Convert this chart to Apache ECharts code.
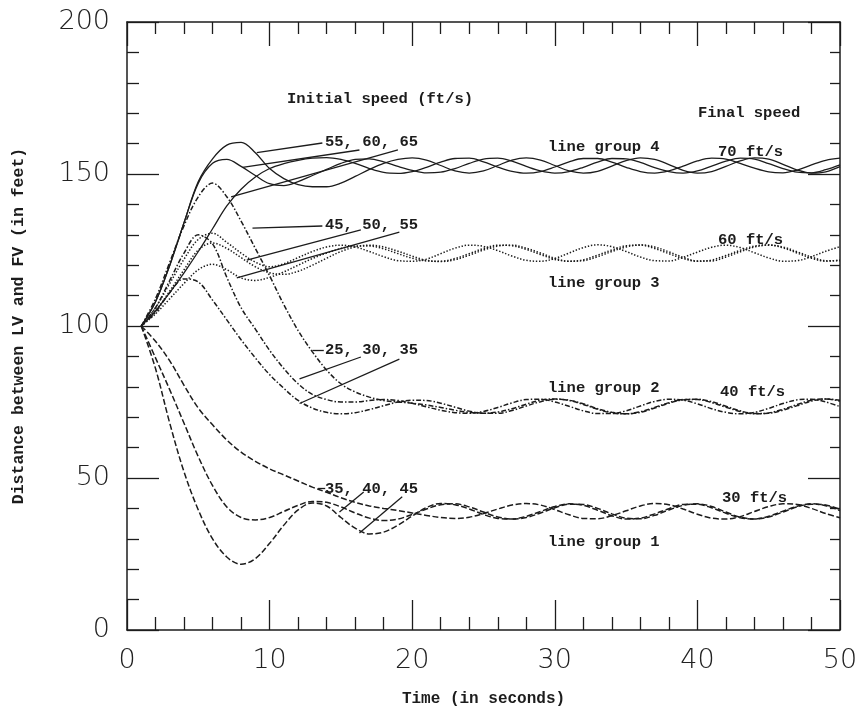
<!DOCTYPE html>
<html>
<head>
<meta charset="utf-8">
<script src="https://cdn.jsdelivr.net/npm/echarts@6/dist/echarts.min.js"></script>
<style>
  html, body { margin: 0; padding: 0; background: #fff; }
  #chart { width: 861px; height: 711px; }
</style>
</head>
<body>
<div id="chart"></div>
<script>
// time samples (s), shared by every curve
const timeSec = [1, 2, 3, 4, 5, 6, 7, 8, 9, 10, 11, 12, 13, 14, 15, 16, 17, 18, 19, 20,
  21, 22, 23, 24, 25, 26, 27, 28, 29, 30, 31, 32, 33, 34, 35, 36, 37, 38, 39, 40,
  41, 42, 43, 44, 45, 46, 47, 48, 49, 50];

// line group 4 (final 70 ft/s), initial 55 / 60 / 65
const g4s55 = [100, 108, 120, 134, 147.5, 155, 159.5, 160.4, 157, 151.8,
  148.5, 146.5, 145.8, 145.8, 147, 149.2, 151.5, 153.5, 154.8, 155.3,
  154.6, 152.8, 151.0, 150.3, 151.0, 152.8, 154.6, 155.3, 154.6, 152.8,
  151.0, 150.3, 150.9, 152.6, 154.4, 155.3, 154.8, 153.1, 151.2, 150.3,
  150.8, 152.5, 154.3, 155.3, 154.9, 153.2, 151.3, 150.3, 150.7, 152.4];
const g4s60 = [100, 108, 120, 134, 147, 153.5, 154.8, 152.5, 149.5, 146.8,
  146.2, 147.5, 149.5, 151.5, 153.5, 154.8, 155, 154, 152.5, 151.2,
  150.4, 150.6, 151.8, 153.5, 154.9, 155.2, 154.2, 152.5, 151, 150.3,
  150.8, 152.2, 153.9, 155.1, 155, 153.8, 152.1, 150.8, 150.3, 151,
  152.6, 154.2, 155.2, 154.9, 153.4, 151.8, 150.6, 150.4, 151.4, 153];
const g4s65 = [100, 105, 111, 117.5, 124.5, 132, 139.5, 145, 149, 151.8,
  153.4, 154.5, 155.2, 155.4, 154.8, 153.5, 151.8, 150.5, 150.2, 150.8,
  152.2, 153.9, 155.1, 155.2, 154, 152.3, 150.9, 150.3, 150.8, 152.3,
  154, 155.1, 155.1, 153.9, 152.2, 150.8, 150.3, 151, 152.6, 154.3,
  155.2, 154.9, 153.5, 151.9, 150.7, 150.4, 151.3, 153, 154.5, 155.2];

// line group 3 (final 60 ft/s), initial 45 / 50 / 55
const g3s45 = [100, 106, 114, 122, 128.5, 130.5, 127.5, 124, 121, 119.5,
  120.5, 122.5, 124.5, 126, 126.6, 126, 124.5, 122.8, 121.5, 121.3,
  122, 123.8, 125.6, 126.6, 126.2, 124.8, 123, 121.6, 121.3, 122.2,
  124, 125.8, 126.7, 126.1, 124.5, 122.7, 121.5, 121.4, 122.6, 124.3,
  125.9, 126.6, 125.8, 124.1, 122.4, 121.3, 121.5, 122.8, 124.6, 126.1];
const g3s50 = [100, 105, 111.5, 118.5, 125, 127.3, 125.5, 122.5, 119.5, 117.5,
  117, 118, 120, 122.3, 124.5, 126, 126.6, 126, 124.6, 123,
  121.6, 121.2, 121.8, 123.3, 125, 126.3, 126.6, 125.6, 124, 122.3,
  121.3, 121.5, 122.8, 124.5, 126, 126.7, 126, 124.4, 122.6, 121.4,
  121.4, 122.7, 124.4, 126, 126.6, 126, 124.4, 122.7, 121.5, 121.5];
const g3s55 = [100, 104, 109, 114, 118.5, 120.3, 118.5, 115.8, 115, 116,
  117.8, 120, 122.2, 124, 125.5, 126.3, 126.3, 125.4, 123.8, 122.3,
  121.4, 121.3, 122.2, 123.8, 125.5, 126.6, 126.4, 125.2, 123.5, 121.9,
  121.3, 121.8, 123.3, 125, 126.4, 126.6, 125.5, 123.8, 122.2, 121.3,
  121.7, 123.2, 124.9, 126.3, 126.7, 125.7, 124, 122.3, 121.3, 121.7];

// line group 2 (final 40 ft/s), initial 25 / 30 / 35
const g2s25 = [100, 109, 121, 133, 142.5, 147, 142.5, 134.5, 125.5, 116.5,
  107, 98.5, 91.5, 85.5, 81, 78.3, 76.6, 75.5, 75, 74.6,
  74, 73.2, 72.3, 71.6, 71.3, 71.7, 72.8, 74.3, 75.6, 76,
  75.5, 74.2, 72.6, 71.4, 71.1, 71.8, 73.2, 74.8, 75.8, 75.8,
  74.8, 73.3, 71.9, 71.1, 71.4, 72.6, 74.2, 75.6, 76, 75.3];
const g2s30 = [100, 106, 115, 124, 130, 127, 116, 106, 99, 92,
  86, 81, 77.5, 75.8, 75, 75, 75.5, 75.8, 75.5, 74.6,
  73.4, 72.3, 71.5, 71.3, 71.9, 73.2, 74.7, 75.8, 75.9, 75,
  73.6, 72.1, 71.2, 71.2, 72.1, 73.7, 75.2, 75.9, 75.6, 74.4,
  72.8, 71.6, 71.1, 71.6, 72.9, 74.5, 75.7, 75.9, 75, 73.5];
const g2s35 = [100, 104.5, 111, 115.5, 114.5, 108.5, 102, 95.5, 89.5, 84,
  79.5, 75.5, 73, 71.6, 71.1, 71.5, 72.5, 73.8, 75, 75.6,
  75.5, 74.6, 73.3, 72, 71.3, 71.3, 72.2, 73.7, 75.1, 75.9,
  75.6, 74.4, 72.8, 71.6, 71.1, 71.6, 73, 74.6, 75.7, 75.9,
  75.1, 73.6, 72.1, 71.2, 71.3, 72.3, 73.8, 75.3, 76, 75.6];

// line group 1 (final 30 ft/s), initial 35 / 40 / 45
const g1s45 = [100, 86, 68, 52, 39.5, 30, 24, 21.6, 23.5, 28.5,
  34.5, 39.5, 41.8, 40.8, 37, 33.5, 31.6, 32.2, 34.5, 37.5,
  40.3, 41.6, 41.2, 39.8, 38, 36.7, 36.5, 37.4, 39, 40.6,
  41.5, 41, 39.4, 37.6, 36.5, 36.8, 38.2, 39.9, 41.3, 41.4,
  40.2, 38.4, 36.9, 36.5, 37.4, 39.1, 40.7, 41.5, 40.9, 39.3];
const g1s40 = [100, 89.5, 79, 68, 57, 47.5, 40.5, 37, 36.2, 37,
  39, 41, 42.3, 42, 40.5, 38.5, 36.8, 36, 36.5, 38,
  39.8, 41.2, 41.5, 40.5, 38.8, 37.2, 36.5, 37, 38.5, 40.2,
  41.4, 41.3, 40, 38.2, 36.8, 36.6, 37.7, 39.5, 41, 41.5,
  40.6, 38.8, 37.1, 36.5, 37.2, 38.8, 40.5, 41.4, 41.1, 39.7];
const g1s35 = [100, 95, 88.5, 80.5, 73, 67.5, 62.5, 58.5, 55.5, 53,
  51, 49, 47, 45.3, 43.5, 42, 40.8, 40, 39.3, 38.5,
  37.7, 37, 36.7, 37.1, 38.3, 39.8, 41.1, 41.6, 41.1, 39.6,
  37.9, 36.7, 36.6, 37.6, 39.2, 40.8, 41.6, 41.2, 39.8, 38.1,
  36.8, 36.5, 37.3, 39, 40.6, 41.5, 41.3, 40, 38.3, 36.9];

// leader lines from the speed labels to the curves, [time, feet]
const leaderLines = [
  [[13.7, 160.2], [9.1, 157.0]],
  [[16.3, 157.9], [8.1, 152.2]],
  [[19.0, 157.9], [7.3, 142.5]],
  [[13.7, 132.9], [8.8, 132.2]],
  [[16.4, 131.6], [8.4, 121.7]],
  [[19.1, 130.9], [7.7, 115.8]],
  [[13.0, 92.1], [13.8, 92.1]],
  [[16.4, 89.8], [12.1, 82.6]],
  [[19.1, 89.1], [12.1, 74.5]],
  [[13.4, 46.7], [13.9, 46.7]],
  [[16.6, 45.4], [14.9, 38.8]],
  [[19.3, 43.8], [16.3, 31.9]],
];

const xTicks = [0, 10, 20, 30, 40, 50];
const yTicks = [0, 50, 100, 150, 200];

const INK = '#1c1c1c';
const LABEL_FONT = 'bold 15.5px "Liberation Mono", monospace';

function pairs(values) {
  return timeSec.map((t, i) => [t, values[i]]);
}

const groups = [
  { name: 'g4', dash: 'solid', curves: [g4s55, g4s60, g4s65] },
  { name: 'g3', dash: [1.4, 1.8], curves: [g3s45, g3s50, g3s55] },
  { name: 'g2', dash: [5, 2, 1.5, 2], curves: [g2s25, g2s30, g2s35] },
  { name: 'g1', dash: [6, 2.5], curves: [g1s45, g1s40, g1s35] },
];

const series = [];
groups.forEach((g) => {
  g.curves.forEach((values, idx) => {
    series.push({
      name: g.name + '-' + idx,
      type: 'line',
      data: pairs(values),
      showSymbol: false,
      smooth: 0.35,
      silent: true,
      lineStyle: { color: INK, width: g.dash === 'solid' ? 1.3 : 1.5, type: g.dash },
    });
  });
});

// leaders drawn through the data scales
series.push({
  type: 'line',
  data: [],
  silent: true,
  markLine: {
    symbol: ['none', 'none'],
    silent: true,
    animation: false,
    label: { show: false },
    lineStyle: { color: INK, width: 1.3, type: 'solid' },
    data: leaderLines.map(([a, b]) => [{ coord: a }, { coord: b }]),
  },
});

function textItem(text, x, y) {
  return {
    type: 'text',
    x: x,
    y: y,
    silent: true,
    style: { text: text, font: LABEL_FONT, fill: INK, align: 'left', verticalAlign: 'middle' },
  };
}

const axisLine = { show: true, onZero: false, lineStyle: { color: INK, width: 1.5 } };
const tickFont = { fontFamily: 'DejaVu Sans', fontWeight: 200, fontSize: 27, color: '#222' };

const chart = echarts.init(document.getElementById('chart'));
chart.setOption({
  animation: false,
  backgroundColor: '#fff',
  grid: { left: 127, right: 21, top: 22, bottom: 81, outerBoundsMode: 'none', containLabel: false },
  xAxis: [
    {
      type: 'value',
      min: xTicks[0],
      max: xTicks[xTicks.length - 1],
      interval: 10,
      position: 'bottom',
      axisLine: axisLine,
      axisTick: { inside: true, length: 30, lineStyle: { color: INK, width: 1.3 } },
      minorTick: { show: true, splitNumber: 5, length: 13, lineStyle: { color: INK, width: 1.3 } },
      axisLabel: Object.assign({ margin: 17 }, tickFont),
      splitLine: { show: false },
      name: 'Time (in seconds)',
      nameLocation: 'middle',
      nameGap: 61,
      nameTextStyle: { fontFamily: 'Liberation Mono', fontWeight: 'bold', fontSize: 16, color: INK },
    },
    {
      type: 'value',
      min: xTicks[0],
      max: xTicks[xTicks.length - 1],
      interval: 10,
      position: 'top',
      axisLine: axisLine,
      axisTick: { inside: true, length: 24, lineStyle: { color: INK, width: 1.3 } },
      minorTick: { show: true, splitNumber: 5, length: 12, lineStyle: { color: INK, width: 1.3 } },
      axisLabel: { show: false },
      splitLine: { show: false },
    },
  ],
  yAxis: [
    {
      type: 'value',
      min: yTicks[0],
      max: yTicks[yTicks.length - 1],
      interval: 50,
      position: 'left',
      axisLine: axisLine,
      axisTick: { inside: true, length: 32, lineStyle: { color: INK, width: 1.3 } },
      minorTick: { show: true, splitNumber: 5, length: 12, lineStyle: { color: INK, width: 1.3 } },
      axisLabel: Object.assign({ margin: 17 }, tickFont),
      splitLine: { show: false },
      name: 'Distance between LV and FV (in feet)',
      nameLocation: 'middle',
      nameGap: 100,
      nameRotate: 90,
      nameTextStyle: { fontFamily: 'Liberation Mono', fontWeight: 'bold', fontSize: 16.5, color: INK },
    },
    {
      type: 'value',
      min: yTicks[0],
      max: yTicks[yTicks.length - 1],
      interval: 50,
      position: 'right',
      axisLine: axisLine,
      axisTick: { inside: true, length: 32, lineStyle: { color: INK, width: 1.3 } },
      minorTick: { show: true, splitNumber: 5, length: 10, lineStyle: { color: INK, width: 1.3 } },
      axisLabel: { show: false },
      splitLine: { show: false },
    },
  ],
  graphic: [
    textItem('Initial speed (ft/s)', 287, 99),
    textItem('Final speed', 698, 113),
    textItem('55, 60, 65', 325, 142),
    textItem('line group 4', 548, 147),
    textItem('70 ft/s', 718, 152),
    textItem('45, 50, 55', 325, 225),
    textItem('60 ft/s', 718, 240),
    textItem('line group 3', 548, 283),
    textItem('25, 30, 35', 325, 350),
    textItem('line group 2', 548, 388),
    textItem('40 ft/s', 720, 392),
    textItem('35, 40, 45', 325, 489),
    textItem('30 ft/s', 722, 498),
    textItem('line group 1', 548, 542),
  ],
  series: series,
});
</script>
</body>
</html>
